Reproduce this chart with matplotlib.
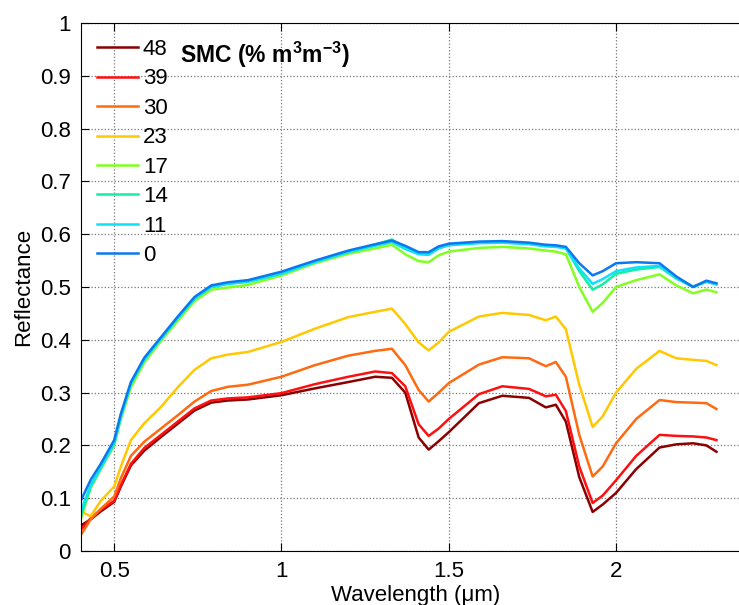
import numpy as np
import matplotlib as mpl
import matplotlib.pyplot as plt
from matplotlib.ticker import FormatStrFormatter

mpl.rcParams['font.family'] = ['Liberation Sans', 'DejaVu Sans']
mpl.rcParams['mathtext.fontset'] = 'custom'
mpl.rcParams['mathtext.rm'] = 'Liberation Sans'
mpl.rcParams['mathtext.bf'] = 'Liberation Sans:bold'

# wavelength grid (um)
wl = [0.40, 0.43, 0.46, 0.50, 0.52, 0.55, 0.59, 0.64, 0.69, 0.74, 0.79, 0.84, 0.90,
      1.00, 1.10, 1.20, 1.28, 1.33, 1.37, 1.41, 1.44, 1.47, 1.50, 1.59, 1.66, 1.74,
      1.79, 1.82, 1.85, 1.89, 1.93, 1.96, 2.00, 2.06, 2.13, 2.18, 2.23, 2.27, 2.30]

# reflectance per soil moisture content
r48 = [0.048, 0.060, 0.075, 0.093, 0.122, 0.162, 0.190, 0.216, 0.241, 0.266, 0.281, 0.285, 0.287,
       0.295, 0.308, 0.320, 0.330, 0.328, 0.300, 0.215, 0.192, 0.208, 0.225, 0.280, 0.294, 0.290,
       0.272, 0.277, 0.245, 0.140, 0.074, 0.088, 0.110, 0.155, 0.196, 0.202, 0.204, 0.200, 0.188]
r39 = [0.040, 0.062, 0.078, 0.095, 0.125, 0.165, 0.195, 0.220, 0.245, 0.270, 0.285, 0.289, 0.291,
       0.299, 0.316, 0.330, 0.340, 0.337, 0.312, 0.240, 0.218, 0.232, 0.250, 0.297, 0.312, 0.307,
       0.293, 0.296, 0.265, 0.160, 0.091, 0.105, 0.134, 0.180, 0.220, 0.218, 0.217, 0.215, 0.210]
r30 = [0.030, 0.060, 0.080, 0.103, 0.138, 0.180, 0.207, 0.232, 0.257, 0.283, 0.303, 0.311, 0.315,
       0.330, 0.352, 0.370, 0.379, 0.383, 0.352, 0.305, 0.283, 0.300, 0.318, 0.353, 0.367, 0.365,
       0.350, 0.358, 0.330, 0.220, 0.141, 0.160, 0.204, 0.250, 0.286, 0.282, 0.281, 0.280, 0.269]
r23 = [0.075, 0.066, 0.095, 0.122, 0.160, 0.210, 0.242, 0.273, 0.310, 0.343, 0.365, 0.372, 0.377,
       0.396, 0.421, 0.443, 0.453, 0.459, 0.430, 0.395, 0.380, 0.395, 0.415, 0.444, 0.451, 0.447,
       0.437, 0.444, 0.420, 0.315, 0.235, 0.255, 0.300, 0.345, 0.379, 0.365, 0.362, 0.360, 0.352]
r17 = [0.060, 0.120, 0.155, 0.200, 0.250, 0.310, 0.357, 0.398, 0.436, 0.473, 0.495, 0.499, 0.504,
       0.522, 0.545, 0.563, 0.573, 0.580, 0.562, 0.549, 0.547, 0.560, 0.567, 0.574, 0.576, 0.573,
       0.569, 0.567, 0.562, 0.500, 0.453, 0.470, 0.500, 0.513, 0.524, 0.503, 0.488, 0.495, 0.490]
r14 = [0.065, 0.122, 0.157, 0.203, 0.253, 0.316, 0.362, 0.402, 0.441, 0.478, 0.500, 0.506, 0.510,
       0.526, 0.548, 0.567, 0.580, 0.590, 0.575, 0.563, 0.562, 0.574, 0.580, 0.584, 0.585, 0.582,
       0.578, 0.577, 0.574, 0.530, 0.495, 0.505, 0.525, 0.533, 0.538, 0.516, 0.500, 0.510, 0.505]
r11 = [0.075, 0.125, 0.158, 0.205, 0.255, 0.318, 0.363, 0.402, 0.441, 0.478, 0.500, 0.506, 0.510,
       0.525, 0.547, 0.566, 0.578, 0.585, 0.572, 0.562, 0.561, 0.573, 0.579, 0.583, 0.584, 0.581,
       0.577, 0.576, 0.573, 0.535, 0.506, 0.515, 0.530, 0.537, 0.540, 0.518, 0.501, 0.510, 0.505]
r0 = [0.095, 0.135, 0.165, 0.210, 0.260, 0.320, 0.366, 0.405, 0.444, 0.481, 0.503, 0.509, 0.513,
      0.529, 0.550, 0.569, 0.581, 0.588, 0.578, 0.566, 0.566, 0.577, 0.582, 0.586, 0.587, 0.584,
      0.580, 0.579, 0.576, 0.545, 0.522, 0.530, 0.545, 0.547, 0.545, 0.520, 0.500, 0.512, 0.507]

labels = ['48', '39', '30', '23', '17', '14', '11', '0']
series = [r48, r39, r30, r23, r17, r14, r11, r0]
colors = ['#8b0000', '#ff1010', '#ff6a10', '#ffc800', '#80ff20', '#10f0a0', '#10e0f8', '#0a78f0']

fig = plt.figure(figsize=(7.39, 6.05), dpi=100)
ax = fig.add_axes([80.7 / 739, 54 / 605, 669.2 / 739, 528 / 605])

for y, c, lab in zip(series, colors, labels):
    ax.plot(wl, y, color=c, lw=1.8, label=lab)

ax.set_xlim(0.4, 2.4)
ax.set_ylim(0, 1)
ax.set_xticks([0.5, 1, 1.5, 2])
ax.set_yticks(np.arange(0, 1.01, 0.1))
ax.xaxis.set_major_formatter(FormatStrFormatter('%g'))
ax.yaxis.set_major_formatter(FormatStrFormatter('%g'))
ax.tick_params(direction='in', length=6, width=0.8, labelsize=16, top=True, right=True, pad=7)
ax.grid(True, linestyle=':', color='#777777', lw=0.9)
ax.set_axisbelow(True)
for s in ax.spines.values():
    s.set_linewidth(0.8)

ax.set_xlabel('Wavelength (\u03bcm)', fontsize=16, labelpad=2)
ax.set_ylabel('Reflectance', fontsize=16, labelpad=4)

leg = ax.legend(loc='upper left', bbox_to_anchor=(0.005, 0.995), frameon=False,
                fontsize=16, handlelength=1.85, handletextpad=0.2, labelspacing=0.38,
                borderaxespad=0.2)
ax.text(180 / 739, 1 - 63 / 605, r'SMC (% m$^\mathbf{3}$m$^\mathbf{-3}$)', transform=fig.transFigure,
        fontsize=16.5, fontweight='bold', va='baseline', ha='left')

plt.savefig('out.png', dpi=100)
